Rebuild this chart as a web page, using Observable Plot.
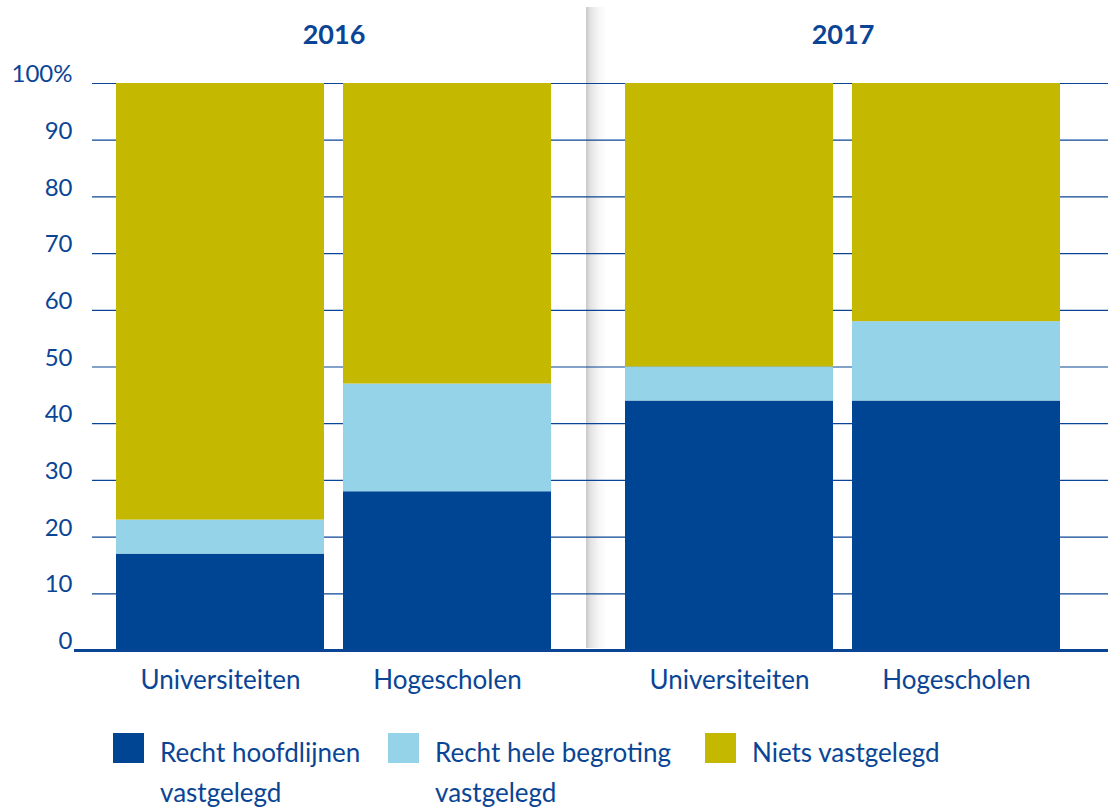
<!DOCTYPE html>
<html>
<head>
<meta charset="utf-8">
<script src="https://cdn.jsdelivr.net/npm/d3@7"></script>
<script src="https://cdn.jsdelivr.net/npm/@observablehq/plot@0.6"></script>
<style>
  html, body { margin: 0; padding: 0; background: #ffffff; }
  #wrap { position: relative; width: 1108px; height: 809px; font-family: Lato, "Open Sans", sans-serif; color: #0a4595; }
  #chart { position: absolute; left: 0; top: 0; }
  .leg { position: absolute; top: 732px; font-size: 26px; line-height: 40px; }
  .leg .sw { position: absolute; left: 0; top: 1px; width: 31px; height: 30px; }
  .leg .tx { position: absolute; left: 47px; top: 0; }
</style>
</head>
<body>
<div id="wrap">
  <div id="chart"></div>
  <div id="legend"></div>
</div>
<script>
// ---- data ----
const years = ["2016", "2017"];
const categories = ["Universiteiten", "Hogescholen"];
const series = ["Recht hoofdlijnen vastgelegd", "Recht hele begroting vastgelegd", "Niets vastgelegd"];
// order of values: 2016 Universiteiten, 2016 Hogescholen, 2017 Universiteiten, 2017 Hogescholen
const hoofdlijnen = [17, 28, 44, 44];
const heleBegroting = [6, 19, 6, 14];
const niets = [77, 53, 50, 42];
const yTicks = [0, 10, 20, 30, 40, 50, 60, 70, 80, 90, 100];
const gridTicks = [10, 20, 30, 40, 50, 60, 70, 80, 90, 100];
const colors = ["#004494", "#95d3e8", "#c4b800"];
const textColor = "#0a4595";

// ---- table ----
const seriesValues = [hoofdlijnen, heleBegroting, niets];
const rows = [];
years.forEach((yr, yi) => {
  categories.forEach((cat, ci) => {
    series.forEach((s, si) => {
      rows.push({year: yr, category: cat, series: s, value: seriesValues[si][yi * categories.length + ci]});
    });
  });
});

const chart = Plot.plot({
  width: 1108,
  height: 712,
  marginTop: 83,
  marginBottom: 62,
  marginLeft: 92,
  marginRight: 24,
  style: {fontFamily: "Lato, 'Open Sans', sans-serif", color: textColor, background: "transparent"},
  fx: {domain: years, paddingInner: 26 / 509, paddingOuter: 0, label: null},
  x: {domain: categories, paddingInner: 19 / 227, paddingOuter: 24 / 227, label: null},
  y: {domain: [0, 100], label: null},
  color: {domain: series, range: colors},
  marks: [
    Plot.ruleY(gridTicks, {stroke: textColor, strokeWidth: 1.2, insetRight: -26}),
    Plot.barY(rows, {fx: "year", x: "category", y: "value", fill: "series"}),
    Plot.ruleY([0], {stroke: textColor, strokeWidth: 3, insetLeft: -18, insetRight: -26}),
    Plot.axisY({ticks: yTicks, tickSize: 0, tickPadding: 20, dy: -9, fontSize: 24, label: null,
      tickFormat: d => d === 100 ? "100%" : String(d)}),
    Plot.axisX({tickSize: 0, tickPadding: 20, fontSize: 26, label: null}),
    Plot.axisFx({anchor: "top", tickSize: 0, tickPadding: 40, fontSize: 27, fontWeight: "bold", label: null})
  ]
});

document.getElementById("chart").appendChild(chart);

// ---- separator shadow between the two years ----
const fxs = chart.scale("fx");
const ys = chart.scale("y");
const gapMid = (fxs.apply("2016") + fxs.bandwidth + fxs.apply("2017")) / 2;
const svg = d3.select(chart.tagName.toLowerCase() === "svg" ? chart : chart.querySelector("svg"));
const defs = svg.insert("defs", ":first-child");
const grad = defs.append("linearGradient").attr("id", "sepGrad").attr("x1", "0").attr("x2", "1").attr("y1", "0").attr("y2", "0");
grad.append("stop").attr("offset", "0").attr("stop-color", "#c8c8c8");
grad.append("stop").attr("offset", "0.2").attr("stop-color", "#e2e2e2");
grad.append("stop").attr("offset", "0.6").attr("stop-color", "#f6f6f6");
grad.append("stop").attr("offset", "1").attr("stop-color", "#ffffff");
svg.insert("rect", "defs + *")
  .attr("x", gapMid - 2).attr("width", 21)
  .attr("y", 7).attr("height", ys.apply(0) - 2 - 7)
  .attr("fill", "url(#sepGrad)");

// ---- legend ----
const legendLeft = [113, 388, 705];
const legendTextWidth = [225, 250, 230];
const legend = document.getElementById("legend");
series.forEach((s, i) => {
  const item = document.createElement("div");
  item.className = "leg";
  item.style.left = legendLeft[i] + "px";
  item.innerHTML = `<div class="sw" style="background:${colors[i]}"></div><div class="tx" style="width:${legendTextWidth[i]}px">${s}</div>`;
  legend.appendChild(item);
});
</script>
</body>
</html>
